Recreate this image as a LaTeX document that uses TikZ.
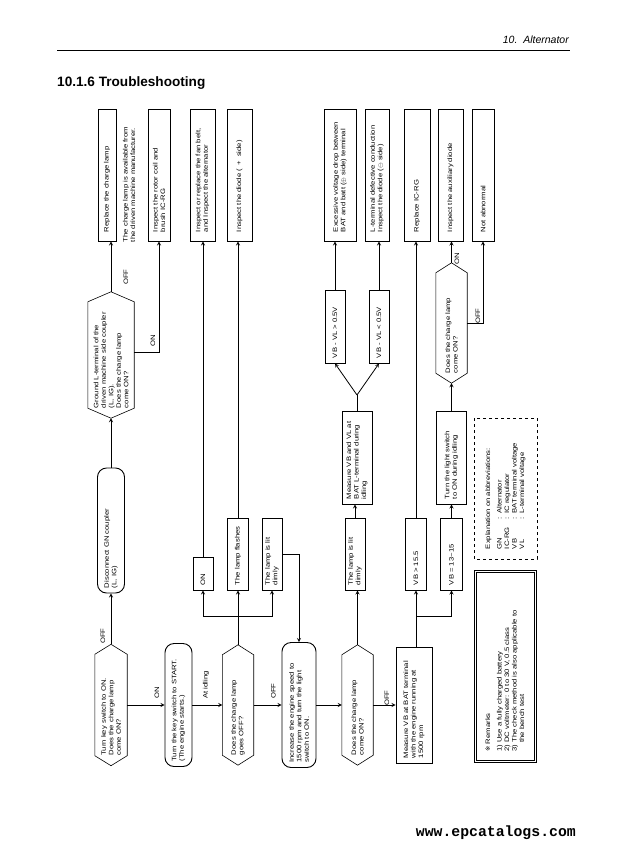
\documentclass[tikz,border=0pt]{standalone}
\usepackage{fontspec}
\setmainfont{Liberation Sans}
\setmonofont{Liberation Mono}
\newfontfamily\flowfam[FakeStretch=1.2]{Liberation Sans}
\newfontfamily\markfam{DejaVu Sans}
\newcommand{\fc}{\flowfam\fontsize{6.4}{7.5}\selectfont}
\usetikzlibrary{calc}

\begin{document}
\begin{tikzpicture}[x=1pt, y=-1pt, >=stealth,
    box/.style={draw, line width=0.9pt, rotate=90, font=\fc, align=left, inner xsep=5pt, inner ysep=1.5pt},
    rbox/.style={box, rounded corners=9pt},
    top/.style={box, inner xsep=9pt, text width=114pt},
    mid/.style={box, text width=62pt},
    hexa/.style={rotate=90, font=\fc, align=left, inner xsep=10pt, inner ysep=1.5pt},
    lbl/.style={rotate=90, font=\fc, inner sep=0.5pt},
    sz/.style 2 args={minimum height=#1, text width=#2},
    line/.style={line width=0.8pt}]
  \useasboundingbox (0,0) rectangle (627,849);

  % page head and foot
  \node[anchor=base east, font=\itshape\fontsize{10.5}{10.5}\selectfont, inner sep=0pt] (hdr) at (569,43) {10.\ \ Alternator};
  \draw[line] (57,50) -- (570,50);
  \node[anchor=base west, font=\bfseries\fontsize{13.6}{13.6}\selectfont, inner sep=0pt] (ttl) at (57,86) {10.1.6 Troubleshooting};
  \node[anchor=base east, font=\ttfamily\bfseries\fontsize{14.8}{14.8}\selectfont, inner sep=0pt] (web) at (576,836) {www.epcatalogs.com};

  % main row
  \node[hexa, sz={32pt}{101pt}] (ton) at (111,705) {Turn key switch to ON.\\ Does the charge lamp\\ come ON?};
  \node[rbox, sz={27pt}{113pt}] (sta) at (178.5,705) {Turn the key switch to START.\\ (The engine starts.)};
  \node[hexa, sz={31pt}{100pt}] (hx8) at (238,705) {Does the charge lamp\\ goes OFF?};
  \node[rbox, sz={34pt}{115pt}] (inc) at (299,705) {Increase the engine speed to\\ 1500 rpm and turn the light\\ switch to ON.};
  \node[hexa, sz={31pt}{100pt}] (hx10) at (357.5,705) {Does the charge lamp\\ come ON?};
  \node[box, sz={36pt}{106pt}] (meas) at (414,705) {Measure VB at BAT terminal\\ with the engine running at\\ 1500 rpm};

  % first column
  \node[rbox, sz={27pt}{115pt}] (dis) at (111,530.5) {Disconnect GN coupler\\ (L, IG)};
  \node[hexa, sz={46pt}{106pt}] (gnd) at (111,355) {Ground L-terminal of the\\ driven machine side coupler\\ (L, IG).\\ Does the charge lamp\\ come ON?};

  % middle boxes
  \node[box, minimum height=20pt, text width=23pt] (on1) at (203,573.5) {ON};
  \node[mid, minimum height=21pt] (fla) at (238,554) {The lamp flashes};
  \node[mid, minimum height=20pt] (dim1) at (272,554) {The lamp is lit\\ dimly};
  \node[mid, minimum height=20pt] (dim2) at (355,554) {The lamp is lit\\ dimly};
  \node[mid, minimum height=21pt] (gt) at (416,554) {VB > 15.5};
  \node[mid, minimum height=22pt] (eq) at (451.5,554) {VB = 13\textasciitilde15};
  \node[box, sz={30pt}{83pt}] (mvl) at (357,457.5) {Measure VB and VL at\\ BAT L-terminal during\\ idling};
  \node[box, sz={30pt}{83pt}] (tls) at (451.5,457.5) {Turn the light switch\\ to ON during idling};
  \node[box, sz={20pt}{63pt}] (gt05) at (335,326.5) {VB - VL > 0.5V};
  \node[box, sz={20pt}{63pt}] (lt05) at (379,326.5) {VB - VL < 0.5V};
  \node[hexa, sz={31pt}{100pt}] (hx22) at (451.5,323) {Does the charge lamp\\ come ON?};

  % results
  \node[top, minimum height=18pt] (rep) at (107,175) {Replace the charge lamp};
  \node[lbl, align=left, inner xsep=9pt, text width=124pt] (note) at (129,180) {The charge lamp is available from\\ the driven machine manufacturer.};
  \node[top, minimum height=22pt] (rot) at (159,175) {Inspect the rotor coil and\\ brush IC-RG};
  \node[top, minimum height=25pt] (fan) at (202.5,175) {Inspect or replace the fan belt,\\ and Inspect the alternator};
  \node[top, minimum height=25pt] (dio) at (239.5,175) {Inspect the diode (\ \,+\ \ side)};
  \node[top, minimum height=32pt] (exc) at (340,175) {Excessive voltage drop between\\ BAT and batt ($\oplus$ side) terminal};
  \node[top, minimum height=24pt] (ldef) at (377,175) {L-terminal defective conduction\\ Inspect the diode ($\ominus$ side)};
  \node[top, minimum height=26pt] (ric) at (417,175) {Replace IC-RG};
  \node[top, minimum height=25pt] (aux) at (450.5,175) {Inspect the auxiliary diode};
  \node[top, minimum height=22pt] (nab) at (483,175) {Not abnormal};

  % hexagon outlines
  \foreach \h in {ton,gnd,hx8,hx10,hx22}
    \draw[line width=0.6pt] (\h.east) -- ($(\h.north east)+(0,10)$) -- ($(\h.north west)+(0,-10)$) -- (\h.west)
      -- ($(\h.south west)+(0,-10)$) -- ($(\h.south east)+(0,10)$) -- cycle;

  % notes
  \node[draw, dashed, line width=0.6pt, rotate=90, font=\fc, align=left, inner xsep=10pt, text width=121pt, minimum height=63pt] (abbr) at (505.5,488.5)
    {Explanation on abbreviations:\\[4pt]
     \makebox[30pt][l]{GN}: Alternator\\
     \makebox[30pt][l]{IC-RG}: IC regulator\\
     \makebox[30pt][l]{VB}: BAT terminal voltage\\
     \makebox[30pt][l]{VL}: L-terminal voltage};
  \node[draw, double, double distance=1.5pt, line width=0.6pt, rotate=90, font=\fc, align=left, inner xsep=10pt, text width=170pt, minimum height=60pt] (rmk) at (505.5,666.5)
    {{\markfam ※} Remarks\\[4pt]
     1) Use a fully charged battery\\
     2) DC voltmeter: 0 to 30 V, 0.5 class\\
     3) The check method is also applicable to\\
     \phantom{3) }the bench test};

  % connectors
  \draw[line, ->] (ton) -- (dis);
  \draw[line, ->] (dis) -- (gnd);
  \draw[line, ->] (gnd.east) -- (gnd.east |- rep.west);
  \draw[line, ->] (gnd.south |- 0,352) -| (rot);
  \draw[line, ->] (ton) -- (sta);
  \draw[line, ->] (sta) -- (hx8);
  \draw[line, ->] (hx8) -- (inc);
  \draw[line, ->] (inc) -- (hx10);
  \draw[line, ->] (hx10) -- (meas);
  \coordinate (j1) at (238,616);
  \draw[line] (hx8) -- (j1);
  \draw[line, ->] (j1) -| (on1);
  \draw[line, ->] (j1) -- (fla);
  \draw[line, ->] (j1) -| (dim1);
  \draw[line, ->] (on1) -- (on1 |- fan.west);
  \draw[line, ->] (fla) -- (fla |- dio.west);
  \draw[line, ->] (dim1.south) -| (inc);
  \draw[line, ->] (hx10) -- (hx10 |- dim2.west);
  \draw[line, ->] (dim2) -- (dim2 |- mvl.west);
  \coordinate (j2) at (357,395);
  \draw[line] (mvl) -- (j2);
  \draw[line, ->] (j2) -- (gt05.west);
  \draw[line, ->] (j2) -- (lt05.west);
  \draw[line, ->] (gt05) -- (gt05 |- exc.west);
  \draw[line, ->] (lt05) -- (lt05 |- ldef.west);
  \coordinate (j3) at (416,616);
  \draw[line] (meas.east -| j3) -- (j3);
  \draw[line, ->] (j3) -- (gt);
  \draw[line, ->] (j3) -| (eq);
  \draw[line, ->] (gt) -- (gt |- ric.west);
  \draw[line, ->] (eq) -- (tls);
  \draw[line, ->] (tls) -- (hx22);
  \draw[line, ->] (hx22) -- (hx22 |- aux.west);
  \draw[line, ->] (hx22.south) -| (nab);

  % branch labels
  \node[lbl] (o1) at (103,636) {OFF};
  \node[lbl] (o2) at (126,277) {OFF};
  \node[lbl] (n1) at (153,341) {ON};
  \node[lbl] (n2) at (157,693) {ON};
  \node[lbl] (idl) at (206,685) {At idling};
  \node[lbl] (o3) at (273.5,691) {OFF};
  \node[lbl] (o4) at (387,698) {OFF};
  \node[lbl] (n3) at (457,259) {ON};
  \node[lbl] (o5) at (478,316) {OFF};
\end{tikzpicture}
\end{document}
